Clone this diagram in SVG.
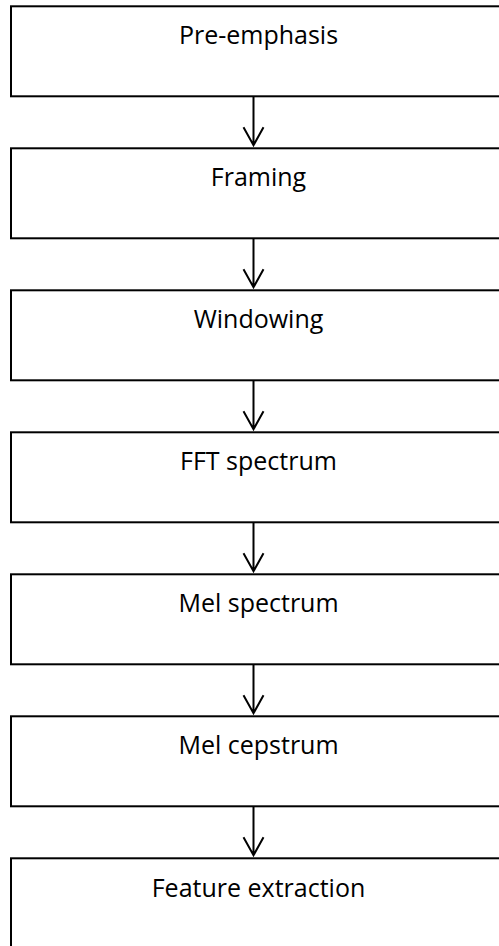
<svg xmlns="http://www.w3.org/2000/svg" width="499" height="946" viewBox="0 0 499 946">
<style>
.box{fill:#fff;stroke:#000;stroke-width:2}
.lbl{font-family:"Open Sans","Noto Sans",sans-serif;font-size:25px;fill:#000;text-anchor:middle}
.con{fill:none;stroke:#000;stroke-width:2}
</style>
<rect width="499" height="946" fill="#fff"/>
<g id="n1"><rect class="box" x="11" y="6.3" width="495" height="90"/><text class="lbl" x="258.5" y="44.3">Pre-emphasis</text></g>
<g id="n2"><rect class="box" x="11" y="148.3" width="495" height="90"/><text class="lbl" x="258.5" y="186.3">Framing</text></g>
<g id="n3"><rect class="box" x="11" y="290.3" width="495" height="90"/><text class="lbl" x="258.5" y="328.3">Windowing</text></g>
<g id="n4"><rect class="box" x="11" y="432.3" width="495" height="90"/><text class="lbl" x="258.5" y="470.3">FFT spectrum</text></g>
<g id="n5"><rect class="box" x="11" y="574.3" width="495" height="90"/><text class="lbl" x="258.5" y="612.3">Mel spectrum</text></g>
<g id="n6"><rect class="box" x="11" y="716.3" width="495" height="90"/><text class="lbl" x="258.5" y="754.3">Mel cepstrum</text></g>
<g id="n7"><rect class="box" x="11" y="858.3" width="495" height="90"/><text class="lbl" x="258.5" y="897">Feature extraction</text></g>
<g id="connectors">
<path class="con" d="M253.5 96.3V145.3M243.5 127.3L253.5 145.3L263.5 127.3"/>
<path class="con" d="M253.5 238.3V287.3M243.5 269.3L253.5 287.3L263.5 269.3"/>
<path class="con" d="M253.5 380.3V429.3M243.5 411.3L253.5 429.3L263.5 411.3"/>
<path class="con" d="M253.5 522.3V571.3M243.5 553.3L253.5 571.3L263.5 553.3"/>
<path class="con" d="M253.5 664.3V713.3M243.5 695.3L253.5 713.3L263.5 695.3"/>
<path class="con" d="M253.5 806.3V855.3M243.5 837.3L253.5 855.3L263.5 837.3"/>
</g>
</svg>
